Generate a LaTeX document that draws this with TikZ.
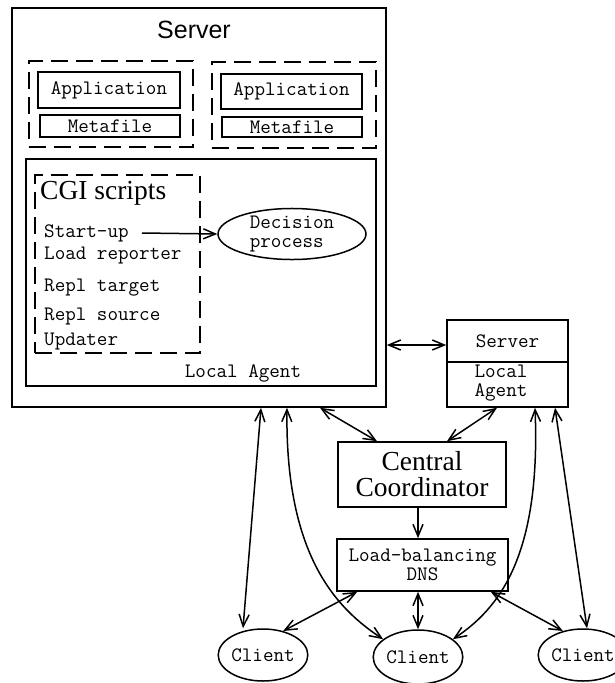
\documentclass[tikz,border=0pt]{standalone}
\usepackage{fontspec}
\setmainfont{Liberation Serif}
\newfontfamily\sansf{Liberation Sans}
\usetikzlibrary{arrows.meta,shapes.geometric}
\tikzset{
  box/.style={draw, line width=1.6pt, rectangle, inner sep=0pt},
  dbox/.style={draw, line width=1.6pt, dash pattern=on 17pt off 8pt, rectangle, inner sep=0pt},
  wh/.style 2 args={minimum width=#1, minimum height=#2},
  mtext/.style={font=\ttfamily\fontsize{20.5}{19}\selectfont, inner sep=0pt},
  oval/.style={draw, line width=1.5pt, ellipse, inner sep=0pt},
  tip/.tip={Straight Barb[length=12pt,width=10pt]},
  conn/.style={line width=1.5pt, {tip}-{tip}},
  single/.style={line width=1.5pt, -{tip}},
}
\begin{document}
\begin{tikzpicture}[x=1pt,y=-1pt]
\useasboundingbox (0,0) rectangle (615,683);
\clip (0,0) rectangle (615,683);

% big server
\node[box, wh={374}{399}] (srv) at (199,207.5) {};
\node[font=\sansf\fontsize{25}{28}\selectfont, inner sep=0pt] (srvt) at (194,30) {Server};

\node[dbox, wh={164}{86}] (d1) at (111,104) {};
\node[box, mtext, wh={142}{36}] (app1) at (109,90) {Application};
\node[box, mtext, wh={140}{22}] (meta1) at (110,126) {Metafile};

\node[dbox, wh={164}{86}] (d2) at (294,105) {};
\node[box, mtext, wh={141}{35}] (app2) at (291.5,91.5) {Application};
\node[box, mtext, wh={140}{20}] (meta2) at (292,127) {Metafile};

% local agent
\node[box, wh={350}{227}] (la) at (201,272.5) {};
\node[mtext] (lat) at (243,373) {Local Agent};

\node[dbox, wh={165}{178}] (cgi) at (117.5,264) {};
\node[font=\fontsize{27.5}{30}\selectfont, inner sep=0pt, anchor=west] (cgit) at (40,193) {CGI scripts};
\node[mtext, anchor=west] (su) at (44,233) {Start-up};
\node[mtext, anchor=west] (lr) at (44,256) {Load reporter};
\node[mtext, anchor=west] (rt) at (44,288) {Repl target};
\node[mtext, anchor=west] (rs) at (44,317) {Repl source};
\node[mtext, anchor=west] (up) at (44,342) {Updater};

\node[oval, wh={148}{48}, mtext, align=left] (dp) at (292,234) {Decision\\process};
\draw[single] ([xshift=13pt]su.east) -- (dp.west);

% small server
\node[box, mtext, wh={121}{42}] (stop) at (507.5,341) {Server};
\node[box, wh={121}{45}] (lag) at (507.5,384.5) {};
\node[mtext, align=left] (lagt) at (501,383) {Local\\Agent};

% central coordinator
\node[box, wh={168}{65}, font=\fontsize{27.5}{26}\selectfont, align=center] (cc) at (422,474.5) {Central\\Coordinator};
\node[box, wh={171}{52}, mtext, font=\ttfamily\fontsize{20.5}{19}\selectfont, align=center] (lb) at (422.5,565) {Load-balancing\\DNS};

% clients
\node[oval, wh={82}{52}, mtext] (c1) at (263,655) {Client};
\node[oval, wh={82}{54}, mtext] (c2) at (418,657) {Client};
\node[oval, wh={84}{52}, mtext] (c3) at (583,655) {Client};

% connectors
\draw[conn] ([yshift=-4pt]srv.east |- stop.west) -- ([yshift=-4pt]stop.west);
\draw[conn] ([xshift=62pt]srv.south) -- ([xshift=-20pt]c1.north);
\draw[conn] ([xshift=88pt]srv.south) .. controls +(-2,150) and +(-45,-30) .. (c2.153);
\draw[conn] ([xshift=121pt]srv.south) -- ([xshift=-45pt]cc.north);
\draw[conn] ([xshift=-10.5pt]lag.south) -- ([xshift=25pt]cc.north);
\draw[conn] ([xshift=27.5pt]lag.south) .. controls +(6,150) and +(45,-30) .. (c2.27);
\draw[conn] ([xshift=47.5pt]lag.south) -- ([xshift=4pt]c3.north);
\draw[single] (cc.south -| c2.north) -- (lb.north -| c2.north);
\draw[conn] ([xshift=21pt]lb.south west) -- (c1.50);
\draw[conn] (lb.south -| c2.north) -- (c2.north);
\draw[conn] ([xshift=-18pt]lb.south east) -- (c3.130);
\end{tikzpicture}
\end{document}
